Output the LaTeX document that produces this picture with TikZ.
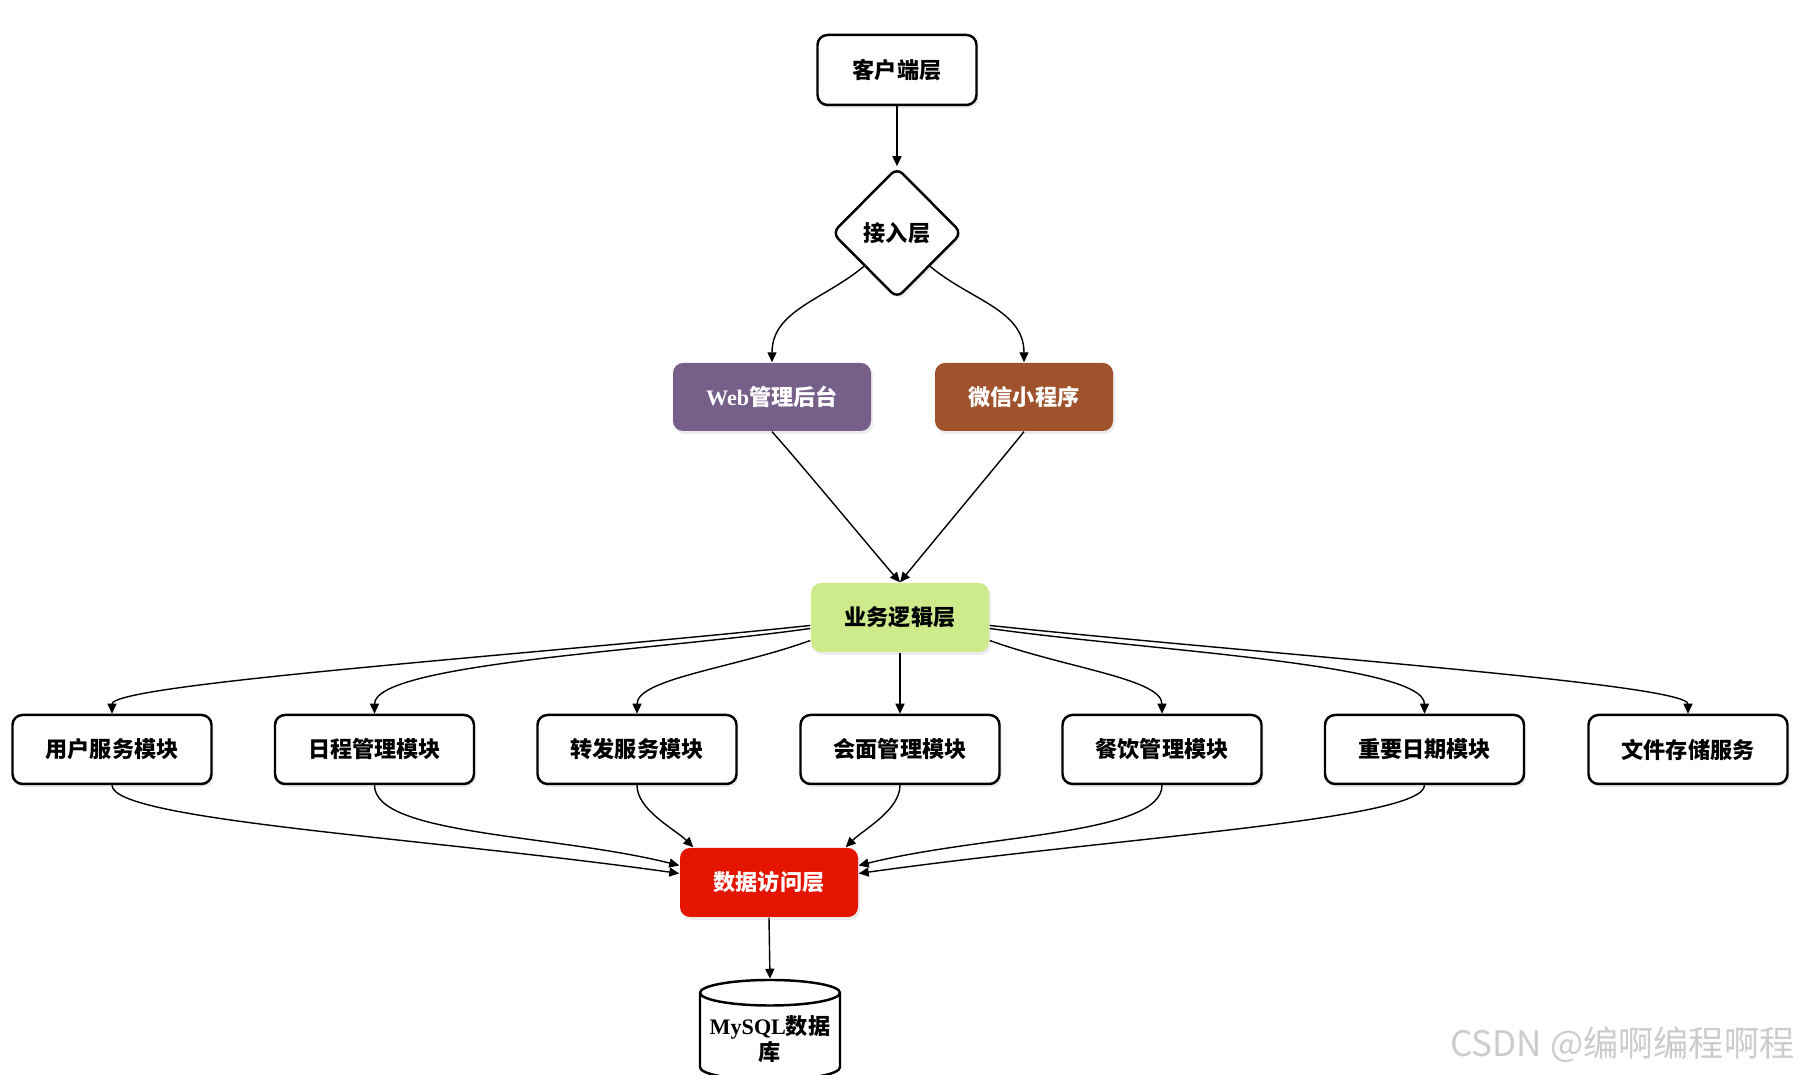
\documentclass[tikz,border=0pt]{standalone}
\usepackage{fontspec}
\setmainfont{Liberation Serif}
\newfontfamily\cjk{Noto Sans CJK SC}
\newcommand\lat[1]{{\rmfamily\bfseries #1}}
\usetikzlibrary{shapes.geometric,arrows.meta,shadows}
\definecolor{webpurple}{HTML}{76608A}
\definecolor{wxbrown}{HTML}{A0522D}
\definecolor{logicgreen}{HTML}{CDEB8B}
\definecolor{datared}{HTML}{E51400}
\begin{document}
\begin{tikzpicture}[
        every node/.style={font=\cjk\bfseries\fontsize{6.3}{7.6}\selectfont},
        shade/.style={drop shadow={opacity=0.15,shadow xshift=0.02cm,shadow yshift=-0.03cm}},
        layer/.style={draw,line width=0.7pt,rounded corners=0.1cm,fill=white,shade,
            minimum width=1.59cm,minimum height=0.7cm},
        colorbox/.style={rounded corners=0.1cm,fill=#1,shade,text=white,
            minimum width=1.78cm,minimum height=0.68cm},
        module/.style={layer,minimum width=1.99cm,minimum height=0.69cm},
        link/.style={line width=0.4pt,-{Triangle[length=0.1cm,width=0.09cm]}}
    ]
    \useasboundingbox (0,0) rectangle (17.97,10.75);

    \node[layer] (client) at (8.97,10.05) {客户端层};
    \node[draw,line width=0.7pt,diamond,rounded corners=0.08cm,fill=white,shade,
        inner sep=0pt,minimum width=1.3cm,minimum height=1.31cm] (access) at (8.97,8.42) {接入层};
    \node[colorbox=webpurple,minimum width=1.98cm] (web) at (7.72,6.78) {\lat{Web}管理后台};
    \node[colorbox=wxbrown] (wechat) at (10.24,6.78) {微信小程序};
    \node[colorbox=logicgreen,text=black,minimum height=0.69cm] (logic) at (9.00,4.575) {业务逻辑层};

    \node[module] (user) at (1.12,3.255) {用户服务模块};
    \node[module] (schedule) at (3.745,3.255) {日程管理模块};
    \node[module] (forward) at (6.37,3.255) {转发服务模块};
    \node[module] (meeting) at (9.00,3.255) {会面管理模块};
    \node[module] (dining) at (11.62,3.255) {餐饮管理模块};
    \node[module] (dates) at (14.245,3.255) {重要日期模块};
    \node[module] (files) at (16.88,3.255) {文件存储服务};

    \node[colorbox=datared,minimum height=0.69cm] (data) at (7.69,1.925) {数据访问层};
    \node[draw,line width=0.7pt,cylinder,shape border rotate=90,aspect=0.2,fill=white,
        minimum width=1.4cm,minimum height=1.0cm,inner sep=1pt,align=center] (mysql) at (7.70,0.36)
        {\lat{MySQL}数据\\库};

    \node[anchor=east,inner sep=0pt,text=black!20,font=\cjk\fontsize{10}{12}\selectfont] (mark) at (17.95,0.30)
        {CSDN @编啊编程啊程};

    \draw[link] (client) -- (access);
    \draw[link] (access.south west) to[out=-140,in=90] (web.north);
    \draw[link] (access.south east) to[out=-40,in=90] (wechat.north);
    \draw[link] (web.south) to[out=-48,in=131,out distance=0.4cm,in distance=0.4cm] (logic.north);
    \draw[link] (wechat.south) to[out=-129,in=51,out distance=0.4cm,in distance=0.4cm] (logic.north);

    \draw[link] ([yshift=-0.08cm]logic.west) to[out=186,in=90,out distance=2.8cm,in distance=0.3cm] (user.north);
    \draw[link] ([yshift=-0.11cm]logic.west) to[out=188,in=90,out distance=1.6cm,in distance=0.5cm] (schedule.north);
    \draw[link] ([yshift=-0.23cm]logic.west) to[out=200,in=90,out distance=0.8cm,in distance=0.35cm] (forward.north);
    \draw[link] (logic.south) -- (meeting.north);
    \draw[link] ([yshift=-0.23cm]logic.east) to[out=-20,in=90,out distance=0.8cm,in distance=0.35cm] (dining.north);
    \draw[link] ([yshift=-0.11cm]logic.east) to[out=-8,in=90,out distance=1.6cm,in distance=0.5cm] (dates.north);
    \draw[link] ([yshift=-0.08cm]logic.east) to[out=-6,in=90,out distance=2.8cm,in distance=0.3cm] (files.north);

    \draw[link] (user.south) to[out=-90,in=172,out distance=0.35cm,in distance=2.6cm] ([yshift=0.09cm]data.west);
    \draw[link] (schedule.south) to[out=-90,in=166,out distance=0.5cm,in distance=1.3cm] ([yshift=0.17cm]data.west);
    \draw[link] (forward.south) to[out=-90,in=135,out distance=0.25cm,in distance=0.25cm] ([xshift=0.14cm]data.north west);
    \draw[link] (meeting.south) to[out=-90,in=45,out distance=0.25cm,in distance=0.25cm] ([xshift=-0.13cm]data.north east);
    \draw[link] (dining.south) to[out=-90,in=14,out distance=0.5cm,in distance=1.3cm] ([yshift=0.17cm]data.east);
    \draw[link] (dates.south) to[out=-90,in=8,out distance=0.35cm,in distance=2.6cm] ([yshift=0.09cm]data.east);
    \draw[link] (data.south) -- (mysql.north);
\end{tikzpicture}
\end{document}
